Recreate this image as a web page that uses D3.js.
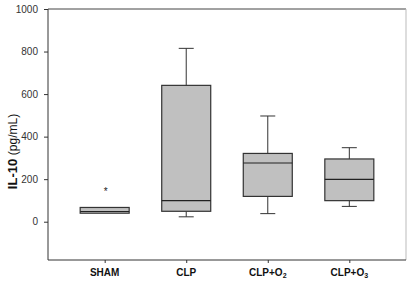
<!DOCTYPE html>
<html>
<head>
<meta charset="utf-8">
<script src="https://cdn.jsdelivr.net/npm/d3@7"></script>
<style>
  body { margin: 0; background: #fff; }
  svg { display: block; font-family: Arial, "Liberation Sans", sans-serif; }
</style>
</head>
<body>
<div class="canvas"></div>
<script>
// groups and box statistics
const groups = ['SHAM', 'CLP', 'CLP+O2', 'CLP+O3'];
const lowWhisker = [40, 23, 38, 72];
const q1 = [40, 49, 119, 99];
const median = [48, 99, 276, 199];
const q3 = [67, 641, 321, 295];
const highWhisker = [67, 815, 497, 348];
const outliers = [[149], [], [], []];
const yTicks = [0, 200, 400, 600, 800, 1000];

const width = 412, height = 283;
const margin = { top: 9, right: 6, bottom: 23, left: 48 };
const graphWidth = width - margin.left - margin.right;
const graphHeight = height - margin.top - margin.bottom;

const svg = d3.select('.canvas')
    .append('svg')
    .attr('width', width)
    .attr('height', height);

const graph = svg.append('g')
    .attr('transform', `translate(${margin.left}, ${margin.top})`);

const x = d3.scalePoint()
    .domain(groups)
    .range([0, graphWidth])
    .padding(0.695);

const y = d3.scaleLinear()
    .domain([-180, 1000])
    .range([graphHeight, 0]);

const boxW = 49, capW = 15;

const data = groups.map((g, i) => ({
    name: g, lo: lowWhisker[i], q1: q1[i], med: median[i],
    q3: q3[i], hi: highWhisker[i], out: outliers[i]
}));

// frame: top and right lines
graph.append('line')
    .attr('x1', 0).attr('x2', graphWidth)
    .attr('y1', 0).attr('y2', 0)
    .attr('stroke', '#444').attr('stroke-width', 1);
graph.append('line')
    .attr('x1', graphWidth).attr('x2', graphWidth)
    .attr('y1', 0).attr('y2', graphHeight)
    .attr('stroke', '#bbb').attr('stroke-width', 1);

const boxes = graph.selectAll('g.box')
    .data(data)
    .enter()
    .append('g')
    .attr('class', 'box')
    .attr('transform', d => `translate(${x(d.name)}, 0)`);

// whiskers
boxes.append('line')
    .attr('x1', 0).attr('x2', 0)
    .attr('y1', d => y(d.hi)).attr('y2', d => y(d.q3))
    .attr('stroke', '#333');
boxes.append('line')
    .attr('x1', 0).attr('x2', 0)
    .attr('y1', d => y(d.q1)).attr('y2', d => y(d.lo))
    .attr('stroke', '#333');
boxes.filter(d => d.hi > d.q3).append('line')
    .attr('x1', -capW / 2).attr('x2', capW / 2)
    .attr('y1', d => y(d.hi)).attr('y2', d => y(d.hi))
    .attr('stroke', '#333');
boxes.filter(d => d.lo < d.q1).append('line')
    .attr('x1', -capW / 2).attr('x2', capW / 2)
    .attr('y1', d => y(d.lo)).attr('y2', d => y(d.lo))
    .attr('stroke', '#333');

// box
boxes.append('rect')
    .attr('x', -boxW / 2)
    .attr('width', boxW)
    .attr('y', d => y(d.q3))
    .attr('height', d => y(d.q1) - y(d.q3))
    .attr('fill', '#c0c0c0')
    .attr('stroke', '#333')
    .attr('stroke-width', 1.2);

// median
boxes.append('line')
    .attr('x1', -boxW / 2).attr('x2', boxW / 2)
    .attr('y1', d => y(d.med)).attr('y2', d => y(d.med))
    .attr('stroke', '#222')
    .attr('stroke-width', 1.2);

// outliers
boxes.selectAll('text.out')
    .data(d => d.out)
    .enter()
    .append('text')
    .attr('class', 'out')
    .attr('x', 1)
    .attr('y', v => y(v) + 5)
    .attr('text-anchor', 'middle')
    .attr('font-size', 10)
    .attr('fill', '#222')
    .text('*');

// axes
const yAxis = d3.axisLeft(y).tickValues(yTicks).tickSize(4).tickPadding(6).tickFormat(d3.format('d'));
const xAxis = d3.axisBottom(x).tickSize(3).tickPadding(9).tickFormat(() => '');

const yAxisGroup = graph.append('g').call(yAxis);
const xAxisGroup = graph.append('g')
    .attr('transform', `translate(0, ${graphHeight})`)
    .call(xAxis);

yAxisGroup.select('.domain').attr('d', `M0,0V${graphHeight}`).attr('stroke', '#333');
xAxisGroup.select('.domain').attr('d', `M0,0H${graphWidth}`).attr('stroke', '#333');
[yAxisGroup, xAxisGroup].forEach(g => g.selectAll('line').attr('stroke', '#333'));
yAxisGroup.selectAll('text')
    .attr('font-size', 10)
    .attr('fill', '#333')
    .attr('font-family', 'Arial, "Liberation Sans", sans-serif');

// x labels with subscripts
const labelParts = [['SHAM', ''], ['CLP', ''], ['CLP+O', '2'], ['CLP+O', '3']];
const xLabels = xAxisGroup.selectAll('text.lbl')
    .data(groups)
    .enter()
    .append('text')
    .attr('class', 'lbl')
    .attr('x', d => x(d))
    .attr('y', 15.5)
    .attr('text-anchor', 'middle')
    .attr('font-size', 10)
    .attr('font-weight', 'bold')
    .attr('fill', '#111')
    .attr('font-family', 'Arial, "Liberation Sans", sans-serif');
xLabels.append('tspan').text((d, i) => labelParts[i][0]);
xLabels.append('tspan')
    .attr('font-size', 7)
    .attr('dy', 2.5)
    .text((d, i) => labelParts[i][1]);

// y axis title
const yTitle = svg.append('text')
    .attr('transform', `translate(17, ${margin.top + y(330)}) rotate(-90)`)
    .attr('text-anchor', 'middle')
    .attr('fill', '#111')
    .attr('font-size', 13);
yTitle.append('tspan').attr('font-weight', 'bold').text('IL-10 ');
yTitle.append('tspan').attr('font-size', 12).text('(pg/mL)');
</script>
</body>
</html>
